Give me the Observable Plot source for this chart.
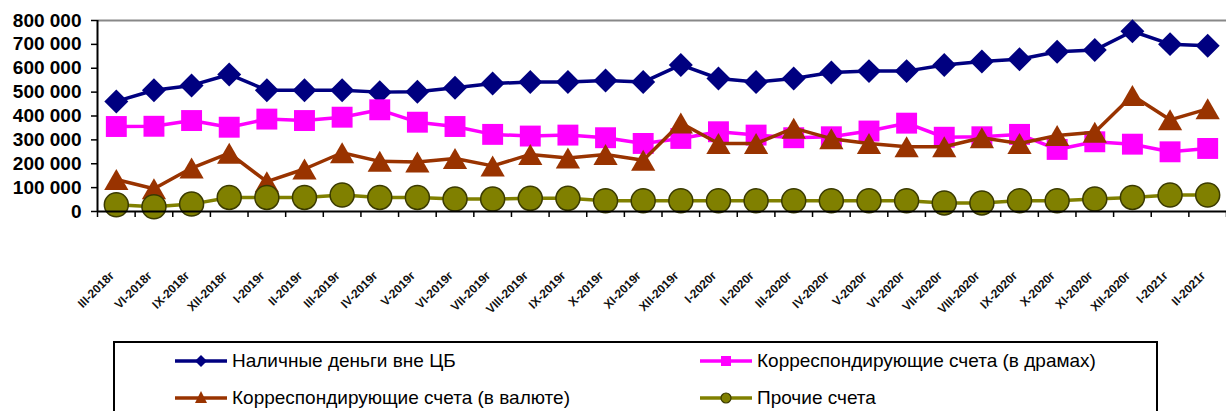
<!DOCTYPE html>
<html><head><meta charset="utf-8">
<script src="https://cdn.jsdelivr.net/npm/d3@7"></script>
<script src="https://cdn.jsdelivr.net/npm/@observablehq/plot@0.6"></script>
<style>
body{margin:0;background:#fff;}
#wrap{position:relative;width:1226px;height:411px;overflow:hidden;background:#fff;}
#legend{position:absolute;left:113px;top:341px;width:1045px;height:100px;border:2px solid #000;box-sizing:border-box;font-family:"Liberation Sans",Arial,sans-serif;font-size:19px;color:#000;}
.item{position:absolute;display:flex;align-items:center;white-space:nowrap;height:24px;}
.item svg{margin-right:5px;}
</style></head><body><div id="wrap"><div id="chart"></div><div id="legend"></div></div>
<script>
const labels = ["III-2018г","VI-2018г","IX-2018г","XII-2018г",
  "I-2019г","II-2019г","III-2019г","IV-2019г","V-2019г","VI-2019г","VII-2019г","VIII-2019г","IX-2019г","X-2019г","XI-2019г","XII-2019г",
  "I-2020г","II-2020г","III-2020г","IV-2020г","V-2020г","VI-2020г","VII-2020г","VIII-2020г","IX-2020г","X-2020г","XI-2020г","XII-2020г",
  "I-2021г","II-2021г"];
const cash  = [461000,508000,528000,574000,508000,508000,508000,500000,502000,518000,536000,542000,542000,549000,542000,614000,557000,542000,557000,582000,588000,588000,614000,628000,638000,669000,676000,755000,701000,694000];
const drams = [356000,357000,381000,353000,387000,381000,395000,426000,374000,356000,323000,316000,320000,309000,285000,306000,334000,320000,309000,313000,337000,370000,311000,313000,323000,260000,292000,282000,250000,264000];
const fx    = [134000,95000,182000,244000,125000,178000,246000,210000,207000,222000,191000,239000,224000,239000,215000,371000,285000,285000,349000,305000,285000,271000,271000,309000,285000,318000,332000,486000,384000,430000];
const other = [28000,20000,31000,59000,59000,59000,69000,59000,59000,52000,52000,55000,55000,45000,45000,45000,45000,45000,45000,45000,45000,45000,36000,36000,45000,45000,52000,59000,69000,69000];
const seriesNames = ["Наличные деньги вне ЦБ","Корреспондирующие счета (в драмах)","Корреспондирующие счета (в валюте)","Прочие счета"];
const yTicks = [0,100000,200000,300000,400000,500000,600000,700000,800000];

const n = labels.length;
const idx = d3.range(n);
const seriesValues = [cash, drams, fx, other];
const styles = [
  {color:"#000080", symbol:"diamond2", r:10.8, fill:"#000080", stroke:"none", dy:0},
  {color:"#FF00FF", symbol:"square", r:11.8, fill:"#FF00FF", stroke:"none", dy:0},
  {color:"#993300", symbol:"triangle", r:9, fill:"#993300", stroke:"none", dy:3.5},
  {color:"#808000", symbol:"circle", r:12, fill:"#808000", stroke:"#3a3a00", dy:0}
];
const fmt = v => d3.format(",")(v).replace(/,/g, " ");
const font = "'Liberation Sans', Arial, sans-serif";

const marks = [
  Plot.ruleY([yTicks[yTicks.length-1]], {stroke:"#888", strokeWidth:2}),
  Plot.axisY({ticks: yTicks, tickFormat: fmt, tickSize: 6, tickPadding: 10, fontSize: 19, fontWeight: "bold", stroke:"#000", strokeWidth:1.5, fill:"#000", label: null}),
  Plot.axisX({ticks: d3.range(n+1).map(i => i - 0.5), tickFormat: () => "", tickSize: 6, stroke:"#000", strokeWidth:1.5, label: null}),
  Plot.axisX({ticks: idx, tickFormat: i => labels[i], tickSize: 0, tickPadding: 62, tickRotate: -45, dx: -4, fontSize: 12, fontWeight: "bold", fill:"#111", label: null}),
];
seriesValues.forEach((vals, k) => {
  const st = styles[k];
  const rows = idx.map(i => ({i, v: vals[i]}));
  marks.push(Plot.line(rows, {x:"i", y:"v", stroke: st.color, strokeWidth: 3.5}));
  marks.push(Plot.dot(rows, {x:"i", y:"v", symbol: () => st.symbol, r: st.r, fill: st.fill, stroke: st.stroke, strokeWidth: 1.5, dy: st.dy}));
});
marks.push(Plot.ruleX([-0.5], {stroke:"#000", strokeWidth:2}));
marks.push(Plot.ruleY([0], {stroke:"#000", strokeWidth:2}));

const chart = Plot.plot({
  width: 1226, height: 335,
  marginLeft: 97, marginRight: 0, marginTop: 20, marginBottom: 124,
  style: {fontFamily: font, background: "#fff", overflow: "visible"},
  x: {type: "linear", domain: [-0.5, n - 0.5], label: null},
  y: {domain: [yTicks[0], yTicks[yTicks.length-1]], label: null},
  symbol: {type: "identity"},
  marks
});
document.getElementById("chart").appendChild(chart);

// legend
const legend = document.getElementById("legend");
const pos = [[60, 6], [585, 6], [60, 43], [585, 43]];
const legendSym = [
  s => `<path d="M26,4 L32,10 L26,16 L20,10 Z" fill="${s.fill}"/>`,
  s => `<rect x="21" y="5" width="10" height="10" fill="${s.fill}"/>`,
  s => `<path d="M26,3 L32,15 L20,15 Z" fill="${s.fill}"/>`,
  s => `<circle cx="26" cy="10" r="5" fill="${s.fill}" stroke="${s.stroke}" stroke-width="1.2"/>`
];
seriesNames.forEach((name, k) => {
  const s = styles[k];
  const d = document.createElement("div");
  d.className = "item";
  d.style.left = pos[k][0] + "px";
  d.style.top = pos[k][1] + "px";
  d.innerHTML = `<svg width="52" height="20" viewBox="0 0 52 20"><line x1="0" y1="10" x2="52" y2="10" stroke="${s.color}" stroke-width="3.5"/>${legendSym[k](s)}</svg><span>${name}</span>`;
  legend.appendChild(d);
});
</script>
</body></html>
